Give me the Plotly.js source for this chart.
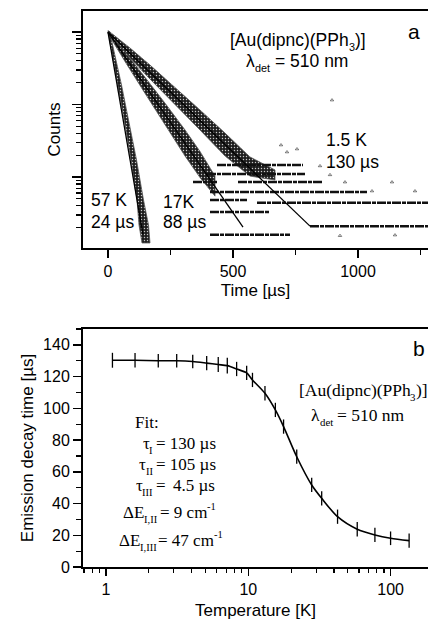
<!DOCTYPE html>
<html><head><meta charset="utf-8">
<script src="https://cdn.plot.ly/plotly-3.0.1.min.js"></script>
<style>html,body{margin:0;padding:0;background:#fff;overflow:hidden}#chart{width:428px;height:620px}</style>
</head><body><div id="chart"></div>
<script>
// ---------- Panel a: luminescence decays (time in µs, counts) ----------
const fit57T = [0, 140];   const fit57C = [1000, 1.6];
const fit17T = [0, 540];   const fit17C = [1000, 2.04];
const fit15T = [0, 808];   const fit15C = [1000, 2.1];

// outlines of the dense measured point clouds
const band57T = [0, 40, 72, 92, 116, 124, 136, 168, 162, 142, 114, 90, 54, 6];
const band57C = [1032, 186, 44.5, 17.2, 4.82, 2.18, 1.23, 1.23, 2.18, 4.82, 17.2, 44.5, 186, 1032];
const band17T = [0, 68, 148, 228, 308, 368, 428, 428, 368, 308, 228, 148, 68, 0];
const band17C = [1049, 538, 237, 104.5, 44.6, 22.5, 10.3, 5.45, 9.84, 19.5, 52.0, 142.7, 392, 953];
const band15T = [0, 88, 168, 268, 368, 468, 568, 668, 668, 568, 468, 368, 268, 168, 88, 0];
const band15C = [1049, 602, 350, 174, 84, 40.4, 18.9, 12.5, 9.09, 10.3, 19.5, 44.5, 98.4, 224.7, 437.9, 953];

// background (noise floor) count levels: level, start time, end time
const floorC  = [14.7, 11.0, 8.5, 8.5, 6.2, 4.8, 4.4, 3.3, 2.1, 1.6];
const floorT0 = [436, 396, 340, 520, 408, 408, 596, 408, 808, 408];
const floorT1 = [780, 788, 436, 860, 1036, 556, 1300, 648, 1300, 728];

// sparse isolated points
const sparseT = [896, 756, 848, 692, 716, 888, 948, 1056, 1136, 1228, 1148, 928];
const sparseC = [115, 24.3, 14.2, 27.6, 22.1, 10.7, 8.5, 6.4, 8.5, 6.4, 1.58, 1.55];

// ---------- Panel b: emission decay time vs temperature ----------
const tempK  = [1.11, 1.6, 2.33, 3.14, 4.07, 5.1, 6.15, 7.12, 8.28, 9.74, 10.7, 13.1, 15.5, 17.7, 21.9, 27.9, 32.8, 42.4, 58.3, 77.6, 100, 135];
const tauUs  = [130.3, 130.3, 130, 130, 129.5, 128.5, 127.6, 126.9, 124.8, 122.3, 117.9, 109.5, 99, 88.5, 69.5, 51.7, 43.3, 31.7, 23.8, 20.2, 18.1, 16.6];
const tauErr = [4.7, 4.5, 4.3, 4.3, 4.3, 4.5, 4.7, 5, 4.5, 4.5, 4.5, 4.5, 4.5, 4.5, 4.5, 4.5, 4.5, 4.5, 4.5, 4.5, 4.3, 4.5];

// ---------- geometry helpers ----------
const W = 428, H = 620, ML = 83, MT = 11, MB = 53, MR = 0;
const PW = W - ML - MR, PH = H - MT - MB;
const fx = p => (p - ML) / PW;
const fy = p => 1 - (p - MT) / PH;
const SANS = 'Liberation Sans, Arial, sans-serif';
const SERIF = 'Liberation Serif, Times New Roman, serif';

const floorX = [], floorY = [];
floorC.forEach((c, i) => { floorX.push(floorT0[i], floorT1[i], null); floorY.push(c, c, null); });

const bandStyle = (t, c) => ({
  x: t, y: c, xaxis: 'x', yaxis: 'y', type: 'scatter', mode: 'lines', fill: 'toself',
  line: {width: 0.8, color: '#555'}, fillcolor: '#1e1e1e',
  fillpattern: {shape: '.', bgcolor: '#1e1e1e', fgcolor: '#c8c8c8', size: 3, solidity: 0.18},
  hoverinfo: 'skip', showlegend: false
});

const traces = [
  bandStyle(band15T, band15C),
  bandStyle(band17T, band17C),
  bandStyle(band57T, band57C),
  {x: floorX, y: floorY, xaxis: 'x', yaxis: 'y', type: 'scatter', mode: 'lines',
   line: {color: '#111', width: 2.5, dash: '9px,1px,4px,1px'}, connectgaps: false, showlegend: false},
  {x: sparseT, y: sparseC, xaxis: 'x', yaxis: 'y', type: 'scatter', mode: 'markers',
   marker: {symbol: 'triangle-up-open', size: 3, color: '#444', line: {width: 0.7}}, showlegend: false},
  {x: fit15T, y: fit15C, xaxis: 'x', yaxis: 'y', type: 'scatter', mode: 'lines', line: {color: '#000', width: 1.3}, showlegend: false},
  {x: fit17T, y: fit17C, xaxis: 'x', yaxis: 'y', type: 'scatter', mode: 'lines', line: {color: '#000', width: 1.3}, showlegend: false},
  {x: fit57T, y: fit57C, xaxis: 'x', yaxis: 'y', type: 'scatter', mode: 'lines', line: {color: '#000', width: 1.3}, showlegend: false},
  {x: tempK, y: tauUs, xaxis: 'x2', yaxis: 'y2', type: 'scatter', mode: 'lines',
   line: {color: '#000', width: 1.6, shape: 'spline', smoothing: 0.8},
   error_y: {type: 'data', array: tauErr, visible: true, color: '#000', thickness: 1.3, width: 0},
   showlegend: false}
];

const axBase = {showline: true, linewidth: 2, linecolor: '#000', ticks: 'outside', tickwidth: 1.5,
  tickcolor: '#000', showgrid: false, zeroline: false, tickfont: {family: SANS, size: 16, color: '#000'}};

// text measuring so that sub/superscripts can be placed as their own texts
const ctx = document.createElement('canvas').getContext('2d');
const measure = (s, size, family) => { ctx.font = size + 'px ' + family; return ctx.measureText(s).width; };

const annotations = [];
const ann = (text, x, y, size, family, xanchor, yshift) => annotations.push({
  text, x: fx(x), y: fy(y), xref: 'paper', yref: 'paper', showarrow: false, borderpad: 0,
  font: {family, size, color: '#000'}, xanchor: xanchor || 'center', yanchor: 'middle', yshift: yshift || 0
});
// pieces: [text, kind] kind: '' normal, 'sub', 'sup'; a leading space is turned into an advance
const rich = (pieces, x, y, size, family, align) => {
  const small = size * 0.62;
  const items = pieces.map(([t, kind]) => {
    const s = kind ? small : size;
    const lead = t.startsWith(' ') ? measure(' ', s, family) : 0;
    const tt = t.trim();
    return {tt, kind, s, lead, w: lead + measure(tt, s, family)};
  });
  const total = items.reduce((a, b) => a + b.w, 0);
  let start = align === 'center' ? x - total / 2 : (align === 'right' ? x - total : x);
  items.forEach(it => {
    start += it.lead;
    const ys = it.kind === 'sub' ? -0.42 * size : (it.kind === 'sup' ? 0.3 * size : 0);
    ann(it.tt, start, y, it.s, family, 'left', ys);
    start += it.w - it.lead;
  });
};

// panel a texts
rich([['[Au(dipnc)(PPh', ''], ['3', 'sub'], [')]', '']], 297, 40, 17.5, SANS, 'center');
rich([['λ', ''], ['det', 'sub'], [' = 510 nm', '']], 296, 61, 17.5, SANS, 'center');
ann('a', 414, 32, 21, SANS);
ann('1.5 K', 325, 140, 17.5, SANS, 'left');
ann('130 µs', 325, 162, 17.5, SANS, 'left');
ann('57 K', 90, 200, 17.5, SANS, 'left');
ann('24 µs', 90, 222, 17.5, SANS, 'left');
ann('17K', 162, 202, 17.5, SANS, 'left');
ann('88 µs', 162, 222, 17.5, SANS, 'left');
// panel b texts
ann('b', 419, 348, 21, SANS);
rich([['[Au(dipnc)(PPh', ''], ['3', 'sub'], [')]', '']], 362, 390, 17.5, SERIF, 'center');
rich([['λ', ''], ['det', 'sub'], [' = 510 nm', '']], 357, 415, 17.5, SERIF, 'center');
ann('Fit:', 147, 423, 17, SERIF);
rich([['τ', ''], ['I', 'sub']], 152, 443, 17, SERIF, 'right');
ann('= 130 µs', 155, 443, 17, SERIF, 'left');
rich([['τ', ''], ['II', 'sub']], 152, 464, 17, SERIF, 'right');
ann('= 105 µs', 155, 464, 17, SERIF, 'left');
rich([['τ', ''], ['III', 'sub']], 152, 485, 17, SERIF, 'right');
ann('=', 155, 485, 17, SERIF, 'left');
ann('4.5 µs', 172, 485, 17, SERIF, 'left');
rich([['ΔE', ''], ['I,II', 'sub']], 156, 512, 17, SERIF, 'right');
rich([['= 9 cm', ''], ['-1', 'sup']], 159, 512, 17, SERIF, 'left');
rich([['ΔE', ''], ['I,III', 'sub']], 156, 540, 17, SERIF, 'right');
rich([['= 47 cm', ''], ['-1', 'sup']], 157, 540, 17, SERIF, 'left');

const layout = {
  width: W, height: H, margin: {l: ML, r: MR, t: MT, b: MB, pad: 0},
  paper_bgcolor: '#fff', plot_bgcolor: '#fff', showlegend: false,
  xaxis: Object.assign({}, axBase, {domain: [0, 1], anchor: 'y', range: [-100, 1280], mirror: true,
    tick0: 0, dtick: 500, ticklen: 8, minor: {dtick: 250, ticklen: 5, ticks: 'outside', tickwidth: 1.5, tickcolor: '#000'},
    title: {text: 'Time [µs]', font: {family: SANS, size: 17, color: '#000'}, standoff: 5}}),
  yaxis: Object.assign({}, axBase, {domain: [fy(248), 1], anchor: 'x', type: 'log', range: [0.0207, 3.29],
    dtick: 1, showticklabels: false, ticklen: 9,
    minor: {dtick: 'D1', ticklen: 5, ticks: 'outside', tickwidth: 1.2, tickcolor: '#000'},
    title: {text: 'Counts', font: {family: SANS, size: 17, color: '#000'}, standoff: 7}}),
  xaxis2: Object.assign({}, axBase, {domain: [0, 1], anchor: 'y2', type: 'log', range: [-0.1616, 2.263], mirror: true,
    dtick: 1, ticklen: 7, minor: {dtick: 'D1', ticklen: 4, ticks: 'outside', tickwidth: 1.2, tickcolor: '#000'},
    title: {text: 'Temperature [K]', font: {family: SANS, size: 17, color: '#000'}, standoff: 14}}),
  yaxis2: Object.assign({}, axBase, {domain: [0, fy(329)], anchor: 'x2', range: [0, 150],
    tick0: 0, dtick: 20, ticklen: 8, minor: {dtick: 10, ticklen: 5, ticks: 'outside', tickwidth: 1.2, tickcolor: '#000'},
    title: {text: 'Emission decay time [µs]', font: {family: SANS, size: 17, color: '#000'}, standoff: 5}}),
  annotations
};

Plotly.newPlot('chart', traces, layout, {displayModeBar: false, staticPlot: true});
</script></body></html>
